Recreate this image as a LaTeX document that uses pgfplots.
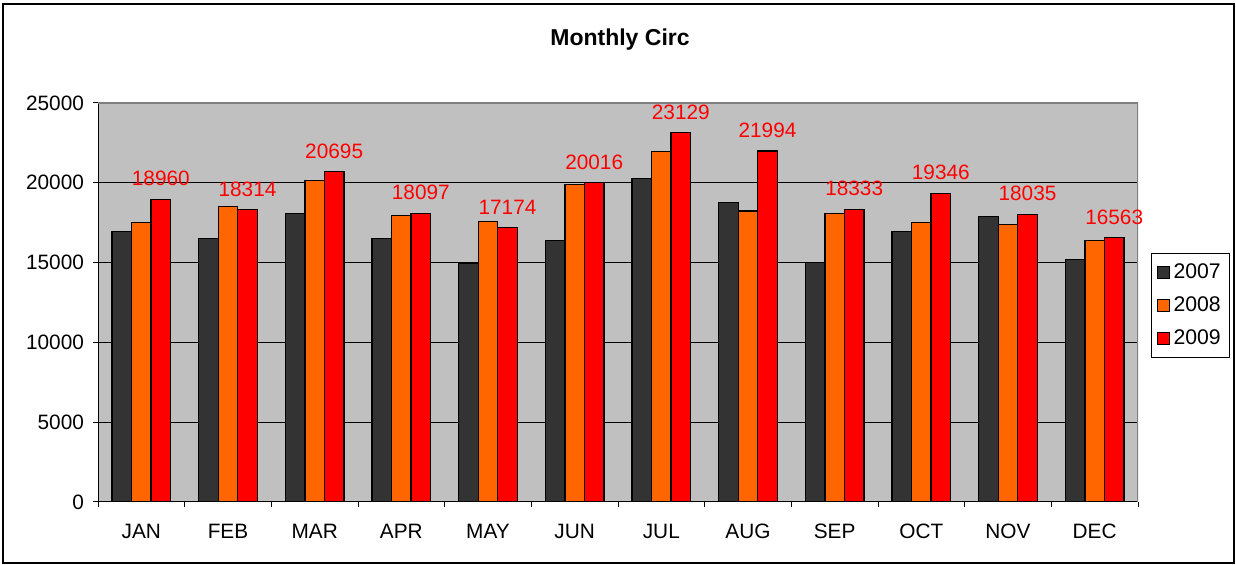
\documentclass[border=0pt]{standalone}
\usepackage{pgfplots}
\pgfplotsset{compat=1.18}
\usepackage{fontspec}
\setmainfont{Liberation Sans}
\definecolor{c07}{HTML}{333333}
\definecolor{c08}{HTML}{FF6600}
\definecolor{c09}{HTML}{FF0000}
\definecolor{bg}{HTML}{C0C0C0}
\begin{document}
\begin{tikzpicture}
\useasboundingbox (0pt,0pt) rectangle (618pt,282.5pt);
\draw[black, line width=0.6pt] (1.5pt,1pt) rectangle (617pt,280.5pt);
\node[font=\bfseries\fontsize{11.5}{13}\selectfont] at (310pt,262.5pt) {Monthly Circ};
\begin{axis}[
  at={(49pt,31.5pt)}, anchor=south west,
  scale only axis, width=520pt, height=199.5pt,
  ybar=0pt, bar width=9.75pt,
  xmin=-0.5, xmax=11.5, ymin=0, ymax=25000,
  axis background/.style={fill=bg},
  xtick={0,...,11},
  xticklabels={JAN,FEB,MAR,APR,MAY,JUN,JUL,AUG,SEP,OCT,NOV,DEC},
  major x tick style={draw=none},
  minor xtick={-0.5,0.5,...,11.5},
  minor x tick style={black, line width=0.5pt},
  minor tick length=2.5pt,
  ytick={0,5000,...,25000},
  scaled y ticks=false,
  yticklabel style={/pgf/number format/1000 sep={}},
  /pgf/number format/assume math mode=true,
  ymajorgrids, grid style={black, line width=0.5pt},
  major tick length=2.5pt,
  tick align=outside,
  xtick pos=bottom, ytick pos=left,
  tick style={black, line width=0.5pt},
  ticklabel style={font=\fontsize{10.4}{12}\selectfont},
  xticklabel style={yshift=-5pt},
  yticklabel style={xshift=-1pt},
  axis line style={draw=none},
  legend style={at={(1.0125,0.6230)}, anchor=north west, draw=black, line width=0.5pt,
    font=\fontsize{10.6}{12}\selectfont, inner xsep=2.5pt, inner ysep=3pt, row sep=3.6pt, cells={anchor=west}},
  legend image code/.code={\draw[#1, line width=0.5pt] (1.5pt,-3pt) rectangle (7.5pt,3pt);},
]
\addplot[fill=c07, draw=black, line width=0.6pt] coordinates {(0,16940) (1,16490) (2,18060) (3,16490) (4,14920) (5,16400) (6,20270) (7,18780) (8,15000) (9,16940) (10,17870) (11,15190)};
\addplot[fill=c08, draw=black, line width=0.6pt] coordinates {(0,17500) (1,18510) (2,20124) (3,17950) (4,17580) (5,19900) (6,21950) (7,18230) (8,18060) (9,17500) (10,17400) (11,16380)};
\addplot[fill=c09, draw=black, line width=0.6pt, nodes near coords,
  nodes near coords style={text=red, font=\fontsize{10.4}{12}\selectfont, anchor=south, yshift=3pt, /pgf/number format/1000 sep={}, /pgf/number format/fixed}] coordinates {(0,18960) (1,18314) (2,20695) (3,18097) (4,17174) (5,20016) (6,23129) (7,21994) (8,18333) (9,19346) (10,18035) (11,16563)};
\legend{2007,2008,2009}
\draw[black, line width=0.6pt] (rel axis cs:0,0) -- (rel axis cs:1,0);
\draw[black, line width=0.6pt] (rel axis cs:0,0) -- (rel axis cs:0,1);
\draw[gray, line width=1pt] (rel axis cs:0,1) -- (rel axis cs:1,1) -- (rel axis cs:1,0);
\end{axis}
\end{tikzpicture}
\end{document}
